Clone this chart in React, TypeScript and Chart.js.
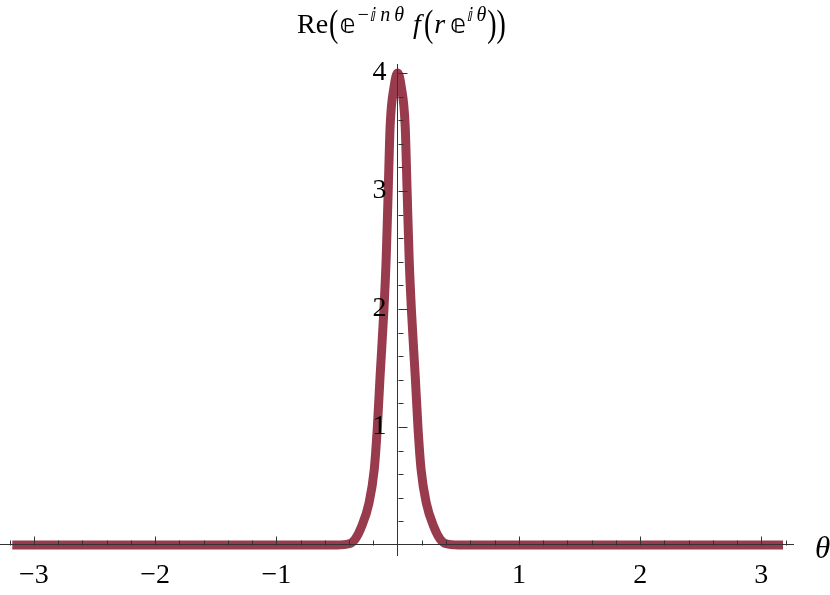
import React, { useEffect, useRef } from "react";
import { Chart, registerables } from "chart.js";

Chart.register(...registerables);

const THETA = [
  -3.1416, -0.5, -0.4, -0.35, -0.298, -0.237, -0.1935, -0.168, -0.145, -0.1135,
  -0.095, -0.078, -0.062, -0.03, 0, 0.03, 0.062, 0.078, 0.095, 0.1135, 0.145,
  0.168, 0.1935, 0.237, 0.298, 0.35, 0.4, 0.5, 3.1416,
];
const RE_VALUES = [
  0, 0, 0.01, 0.05, 0.155, 0.353, 0.636, 0.99, 1.43, 1.99,
  2.42, 3.0, 3.55, 3.88, 4.0, 3.88, 3.55, 3.0, 2.42, 1.99, 1.43,
  0.99, 0.636, 0.353, 0.155, 0.05, 0.01, 0, 0,
];
const X_TICKS = [-3, -2, -1, 1, 2, 3];
const Y_TICKS = [1, 2, 3, 4];
const X_RANGE = [-3.28, 3.265];
const Y_RANGE = [-0.085, 4.076];
const MINOR_STEP = 0.2;

const LINE_COLOR = "rgb(152, 59, 77)";
const AXIS_COLOR = "#333333";
const SERIF = "'Liberation Serif', 'DejaVu Serif', serif";

const fmt = (v: number) => (v < 0 ? "\u2212" + Math.abs(v) : String(v));

const ticksPlugin = {
  id: "mmaTicks",
  afterDatasetsDraw(chart: any) {
    const { ctx, scales } = chart;
    const xs = scales.x;
    const ys = scales.y;
    const x0 = Math.round(xs.getPixelForValue(0)) + 0.5;
    const y0 = Math.round(ys.getPixelForValue(0)) + 0.5;
    ctx.save();
    ctx.strokeStyle = AXIS_COLOR;
    ctx.lineWidth = 1;
    ctx.beginPath();
    for (let i = -16; i <= 16; i++) {
      if (i === 0) continue;
      const v = i * MINOR_STEP;
      const major = i % 5 === 0;
      const px = Math.round(xs.getPixelForValue(v)) + 0.5;
      ctx.moveTo(px, y0);
      ctx.lineTo(px, y0 - (major ? 9 : 5));
    }
    for (let i = 1; i <= 20; i++) {
      const v = i * MINOR_STEP;
      const major = i % 5 === 0;
      const py = Math.round(ys.getPixelForValue(v)) + 0.5;
      ctx.moveTo(x0, py);
      ctx.lineTo(x0 + (major ? 9 : 5), py);
    }
    ctx.stroke();
    ctx.restore();
  },
};

export default function App() {
  const canvasRef = useRef<HTMLCanvasElement | null>(null);

  useEffect(() => {
    const canvas = canvasRef.current;
    if (!canvas) return;
    const data = THETA.map((t, i) => ({ x: t, y: RE_VALUES[i] }));
    const chart = new Chart(canvas, {
      type: "line",
      data: {
        datasets: [
          {
            data,
            borderColor: LINE_COLOR,
            borderWidth: 9,
            borderCapStyle: "square",
            pointRadius: 0,
            cubicInterpolationMode: "monotone",
            fill: false,
          },
        ],
      },
      options: {
        animation: false,
        responsive: false,
        layout: { padding: { left: 0, right: 36.5, top: 64, bottom: 40 } },
        plugins: {
          legend: { display: false },
          tooltip: { enabled: false },
          title: { display: false },
        },
        scales: {
          x: {
            type: "linear",
            min: X_RANGE[0],
            max: X_RANGE[1],
            position: { y: 0 } as any,
            grid: { display: false, drawTicks: false },
            border: { display: true, color: AXIS_COLOR, width: 1, z: 1 },
            afterBuildTicks: (s: any) => {
              s.ticks = X_TICKS.map((v) => ({ value: v }));
            },
            afterFit: (s: any) => {
              s.height = 0;
            },
            ticks: {
              autoSkip: false,
              maxRotation: 0,
              padding: 14,
              color: "#000",
              z: 1,
              font: { family: SERIF, size: 28 },
              callback: (v: any) => fmt(Number(v)),
            },
          },
          y: {
            type: "linear",
            min: Y_RANGE[0],
            max: Y_RANGE[1],
            position: { x: 0 } as any,
            grid: { display: false, drawTicks: false },
            border: { display: true, color: AXIS_COLOR, width: 1, z: 1 },
            afterBuildTicks: (s: any) => {
              s.ticks = Y_TICKS.map((v) => ({ value: v }));
            },
            afterFit: (s: any) => {
              s.width = 0;
            },
            ticks: {
              autoSkip: false,
              padding: 8,
              color: "#000",
              z: 1,
              font: { family: SERIF, size: 28 },
              callback: (v: any) => fmt(Number(v)) + "\u2009\u2009",
            },
          },
        },
      },
      plugins: [ticksPlugin],
    });
    return () => chart.destroy();
  }, []);

  const sup: React.CSSProperties = {
    position: "relative",
    top: -12,
    fontSize: 20,
    fontStyle: "italic",
    marginLeft: 1,
  };
  const paren: React.CSSProperties = {
    display: "inline-block",
    transform: "scaleY(1.35)",
    margin: "0 1px",
  };
  const dbl = "'DejaVu Sans', 'Liberation Serif', serif";
  const ee: React.CSSProperties = { fontFamily: dbl, fontSize: 26 };
  const ii: React.CSSProperties = { fontFamily: dbl, fontSize: 18, fontStyle: "normal" };

  return (
    <div
      style={{
        position: "absolute",
        left: 0,
        top: 0,
        width: 830,
        height: 595,
        background: "#fff",
        overflow: "hidden",
      }}
    >
      <canvas ref={canvasRef} width={830} height={595} style={{ width: 830, height: 595 }} />
      <div
        style={{
          position: "absolute",
          left: 297,
          top: 10,
          whiteSpace: "nowrap",
          fontFamily: SERIF,
          fontSize: 28,
          lineHeight: "28px",
          color: "#000",
        }}
      >
        Re<span style={paren}>(</span>
        <span style={ee}>𝕖</span>
        <span style={sup}>
          −<span style={ii}>ⅈ</span>
          <span style={{ marginLeft: 4 }}>n</span>
          <span style={{ marginLeft: 4 }}>θ</span>
        </span>
        <i style={{ marginLeft: 9, marginRight: 2 }}>f</i>
        <span style={paren}>(</span>
        <i>r</i>
        <span style={{ ...ee, marginLeft: 5 }}>𝕖</span>
        <span style={sup}>
          <span style={ii}>ⅈ</span>
          <span style={{ marginLeft: 3 }}>θ</span>
        </span>
        <span style={paren}>)</span>
        <span style={{ ...paren, marginLeft: -1 }}>)</span>
      </div>
      <div
        style={{
          position: "absolute",
          left: 815,
          top: 532,
          fontFamily: SERIF,
          fontStyle: "italic",
          fontSize: 31,
          lineHeight: "31px",
          color: "#000",
        }}
      >
        θ
      </div>
    </div>
  );
}
